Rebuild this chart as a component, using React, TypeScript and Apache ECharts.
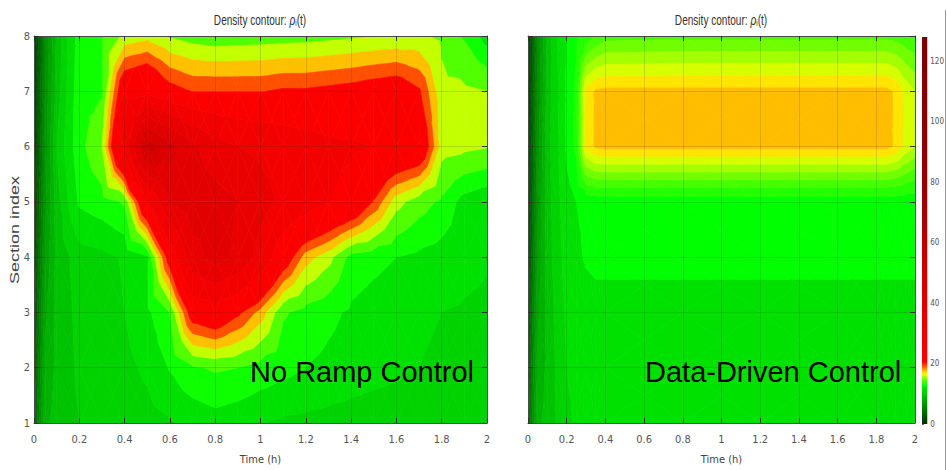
import React, { useEffect, useRef } from "react";
import * as echarts from "echarts";

// ---------- data ----------
const SECTIONS = [1, 2, 3, 4, 5, 6, 7, 8];
const TIME_TICKS = [0, 0.2, 0.4, 0.6, 0.8, 1, 1.2, 1.4, 1.6, 1.8, 2];
const SECTION_TICKS = [1, 2, 3, 4, 5, 6, 7, 8];
const COLORBAR_TICKS = [0, 20, 40, 60, 80, 100, 120];
const COLORBAR_MAX = 128;

// No ramp control: density at sections 1..8 over time (h)
const NO_RAMP_TIMES = [0, 0.05, 0.1, 0.2, 0.3, 0.4, 0.5, 0.6, 0.7, 0.8, 0.9, 1.0, 1.1, 1.2, 1.3, 1.4, 1.5, 1.6, 1.7, 1.8, 1.9, 2.0];
const NO_RAMP_S1 = [3.5, 8.8, 9.3, 10.0, 10.2, 10.4, 10.6, 10.9, 11.2, 11.6, 11.3, 11.0, 10.8, 10.7, 10.6, 10.5, 10.4, 10.4, 10.3, 10.3, 10.3, 10.3];
const NO_RAMP_S2 = [3.0, 8.3, 9.2, 10.2, 10.4, 10.7, 11.2, 12.3, 13.4, 13.8, 13.6, 13.0, 12.6, 12.2, 11.9, 11.6, 11.4, 11.2, 11.0, 10.9, 10.8, 10.7];
const NO_RAMP_S3 = [2.5, 7.8, 9.3, 10.3, 10.6, 11.0, 11.9, 13.6, 21.5, 22.7, 20.5, 17.7, 13.8, 13.0, 12.5, 12.0, 11.6, 11.3, 11.1, 11.0, 10.9, 10.8];
const NO_RAMP_S4 = [2.0, 7.2, 9.3, 10.5, 10.7, 11.1, 12.0, 21.5, 33.0, 37.0, 34.0, 28.0, 22.0, 17.5, 15.75, 13.0, 12.6, 12.2, 11.9, 11.6, 11.3, 11.1];
const NO_RAMP_S5 = [1.5, 6.8, 9.5, 12.4, 12.9, 13.8, 24.1, 35.0, 38.0, 37.0, 35.0, 32.0, 29.0, 27.0, 25.0, 23.5, 19.8, 15.8, 14.3, 13.3, 11.6, 11.0];
const NO_RAMP_S6 = [1.0, 6.5, 10.0, 13.0, 15.2, 27.0, 48.0, 42.0, 36.0, 32.0, 30.0, 29.0, 28.0, 27.0, 26.0, 25.5, 25.0, 24.0, 23.0, 15.9, 15.6, 15.3];
const NO_RAMP_S7 = [0.8, 6.2, 9.4, 13.0, 13.4, 22.6, 23.8, 20.9, 19.9, 19.9, 19.9, 19.9, 20.3, 20.3, 20.6, 20.9, 21.4, 21.8, 20.3, 15.6, 15.5, 15.2];
const NO_RAMP_S8 = [0.8, 6.0, 9.2, 12.8, 13.4, 15.6, 16.2, 15.0, 14.4, 14.1, 14.2, 14.3, 14.4, 14.5, 14.7, 14.9, 15.1, 15.3, 15.4, 14.9, 13.4, 11.5];
const NO_RAMP_LEVELS = [0, 1, 2, 3, 4, 5, 6, 7, 8, 9, 10, 11, 12.2, 13.6, 15.2, 16.8, 18.4, 20, 25, 30, 35, 40, 45, 50];

// Data-driven control
const DATA_DRIVEN_TIMES = [0, 0.05, 0.1, 0.15, 0.2, 0.25, 0.3, 0.35, 0.4, 0.8, 1.2, 1.6, 1.8, 1.85, 1.9, 1.95, 2.0];
const DATA_DRIVEN_S1 = [3.5, 8.8, 9.3, 10.1, 10.8, 11.1, 11.2, 11.3, 11.3, 11.3, 11.3, 11.3, 11.3, 11.3, 11.3, 11.3, 11.3];
const DATA_DRIVEN_S2 = [3.0, 8.3, 9.2, 10.2, 11.0, 11.3, 11.4, 11.5, 11.5, 11.5, 11.5, 11.5, 11.5, 11.5, 11.5, 11.5, 11.5];
const DATA_DRIVEN_S3 = [2.5, 7.8, 9.3, 10.3, 11.2, 11.6, 11.8, 11.9, 11.9, 11.9, 11.9, 11.9, 11.9, 11.9, 11.9, 11.9, 11.9];
const DATA_DRIVEN_S4 = [2.0, 7.2, 9.5, 10.5, 11.5, 12.0, 12.3, 12.4, 12.4, 12.4, 12.4, 12.4, 12.4, 12.4, 12.4, 12.4, 12.4];
const DATA_DRIVEN_S5 = [1.5, 6.8, 9.6, 10.6, 11.8, 12.2, 12.4, 12.5, 12.5, 12.5, 12.5, 12.5, 12.5, 12.5, 12.5, 12.5, 12.4];
const DATA_DRIVEN_S6 = [1.0, 6.5, 9.6, 10.8, 12.4, 13.2, 16.8, 17.4, 17.5, 17.5, 17.5, 17.5, 17.5, 17.5, 17.2, 16.4, 15.9];
const DATA_DRIVEN_S7 = [0.8, 6.2, 9.5, 10.8, 12.4, 13.2, 16.8, 17.4, 17.5, 17.5, 17.5, 17.5, 17.5, 17.5, 17.2, 16.4, 15.9];
const DATA_DRIVEN_S8 = [0.8, 6.0, 9.3, 11.0, 12.2, 12.8, 13.3, 13.8, 14.2, 14.3, 14.3, 14.3, 14.3, 14.3, 14.2, 14.0, 13.8];
const DATA_DRIVEN_LEVELS = [0, 1, 2, 3, 4, 5, 6, 7, 8, 9, 10, 11, 12.2, 13.0, 13.8, 14.5, 15.2, 15.9, 16.6, 17.3];

// colormap (value -> rgb)
const CMAP_VALUES = [0, 3, 6, 9, 10, 11, 12.2, 12.6, 14.4, 15.6, 16.4, 16.9, 17.6, 19.2, 20.5, 40, 60, 80, 128];
const CMAP_COLORS = [
  [0, 48, 0], [0, 90, 0], [0, 140, 0], [0, 185, 0], [0, 205, 0], [0, 216, 0], [0, 234, 0], [0, 255, 0],
  [80, 255, 0], [168, 255, 0], [224, 255, 0], [255, 232, 0], [255, 192, 0], [255, 80, 0], [255, 0, 0],
  [222, 0, 0], [182, 0, 0], [150, 0, 0], [122, 0, 0],
];

function rgb(c: number[]) {
  return `rgb(${Math.round(c[0])},${Math.round(c[1])},${Math.round(c[2])})`;
}
function cm(v: number): string {
  const n = CMAP_VALUES.length;
  if (v <= CMAP_VALUES[0]) return rgb(CMAP_COLORS[0]);
  if (v >= CMAP_VALUES[n - 1]) return rgb(CMAP_COLORS[n - 1]);
  for (let k = 0; k < n - 1; k++) {
    const a = CMAP_VALUES[k], b = CMAP_VALUES[k + 1];
    if (v >= a && v <= b) {
      const f = (v - a) / (b - a);
      const c0 = CMAP_COLORS[k], c1 = CMAP_COLORS[k + 1];
      return rgb([0, 1, 2].map((q) => c0[q] + f * (c1[q] - c0[q])));
    }
  }
  return rgb(CMAP_COLORS[n - 1]);
}

type P = [number, number, number];
function clipPoly(pts: P[], level: number, keepAbove: boolean): P[] {
  const out: P[] = [];
  for (let n = 0; n < pts.length; n++) {
    const a = pts[n], b = pts[(n + 1) % pts.length];
    const ina = keepAbove ? a[2] >= level : a[2] <= level;
    const inb = keepAbove ? b[2] >= level : b[2] <= level;
    if (ina) out.push(a);
    if (ina !== inb) {
      const f = (level - a[2]) / (b[2] - a[2]);
      out.push([a[0] + f * (b[0] - a[0]), a[1] + f * (b[1] - a[1]), level]);
    }
  }
  return out;
}

function contourSeries(axisIndex: number, times: number[], sections: number[], z: number[][], levels: number[]) {
  const cells: any[] = [];
  for (let j = 0; j < sections.length - 1; j++)
    for (let i = 0; i < times.length - 1; i++) cells.push({ value: [i, j] });
  const colors = levels.map((lo, k) => {
    const hi = k < levels.length - 1 ? levels[k + 1] : lo + (lo - levels[k - 1]);
    return cm((lo + hi) / 2);
  });
  return {
    type: "custom",
    xAxisIndex: axisIndex,
    yAxisIndex: axisIndex,
    data: cells,
    silent: true,
    clip: true,
    z: 1,
    renderItem: (params: any, api: any) => {
      const i = api.value(0), j = api.value(1);
      const t0 = times[i], t1 = times[i + 1], s0 = sections[j], s1 = sections[j + 1];
      const pA = api.coord([t0, s0]), pB = api.coord([t1, s0]), pC = api.coord([t1, s1]), pD = api.coord([t0, s1]);
      const A: P = [pA[0], pA[1], z[j][i]];
      const B: P = [pB[0], pB[1], z[j][i + 1]];
      const C: P = [pC[0], pC[1], z[j + 1][i + 1]];
      const D: P = [pD[0], pD[1], z[j + 1][i]];
      const M: P = [(A[0] + C[0]) / 2, (A[1] + C[1]) / 2, (A[2] + B[2] + C[2] + D[2]) / 4];
      const tris: P[][] = [[A, B, M], [B, C, M], [C, D, M], [D, A, M]];
      const children: any[] = [];
      for (const tri of tris) {
        const vmin = Math.min(tri[0][2], tri[1][2], tri[2][2]);
        const vmax = Math.max(tri[0][2], tri[1][2], tri[2][2]);
        for (let k = 0; k < levels.length; k++) {
          const lo = k === 0 ? -Infinity : levels[k];
          const hi = k < levels.length - 1 ? levels[k + 1] : Infinity;
          if (hi < vmin || lo > vmax) continue;
          let poly = tri;
          if (lo > vmin) poly = clipPoly(poly, lo, true);
          if (poly.length < 3) continue;
          if (hi < vmax) poly = clipPoly(poly, hi, false);
          if (poly.length < 3) continue;
          children.push({
            type: "polygon",
            shape: { points: poly.map((p) => [p[0], p[1]]) },
            style: { fill: colors[k], stroke: colors[k], lineWidth: 0.7, lineJoin: "round" },
          });
        }
      }
      return { type: "group", children };
    },
  };
}

const NARROW = '"Liberation Sans Narrow", "DejaVu Sans Condensed", "Roboto Condensed", Roboto, sans-serif';
const SANS = '"Liberation Sans", Arial, sans-serif';
const AXIS_COLOR = "#4a4a4a";
const LABEL_COLOR = "#555";

function xAxes(gridIndex: number) {
  const base = {
    gridIndex,
    type: "value",
    min: TIME_TICKS[0],
    max: TIME_TICKS[TIME_TICKS.length - 1],
    interval: TIME_TICKS[1] - TIME_TICKS[0],
    z: 10,
    axisLine: { show: true, onZero: false, lineStyle: { color: AXIS_COLOR, width: 1 } },
    axisTick: { show: true, inside: true, length: 5, lineStyle: { color: "#333" } },
  };
  return [
    {
      ...base,
      position: "bottom",
      axisLabel: { show: true, margin: 11, color: LABEL_COLOR, fontSize: 11, fontFamily: NARROW },
      splitLine: { show: true, lineStyle: { color: "rgba(0,0,0,0.13)", width: 1 } },
      name: "Time (h)",
      nameLocation: "middle",
      nameGap: 31,
      nameTextStyle: { color: "#444", fontSize: 11, fontFamily: NARROW },
    },
    { ...base, position: "top", axisLabel: { show: false }, splitLine: { show: false } },
  ];
}

function yAxes(gridIndex: number, withLabels: boolean) {
  const base = {
    gridIndex,
    type: "value",
    min: SECTION_TICKS[0],
    max: SECTION_TICKS[SECTION_TICKS.length - 1],
    interval: SECTION_TICKS[1] - SECTION_TICKS[0],
    z: 10,
    axisLine: { show: true, onZero: false, lineStyle: { color: AXIS_COLOR, width: 1 } },
    axisTick: { show: true, inside: true, length: 5, lineStyle: { color: "#333" } },
  };
  const left: any = {
    ...base,
    position: "left",
    axisLabel: { show: withLabels, margin: 4, color: LABEL_COLOR, fontSize: 11, fontFamily: NARROW },
    splitLine: { show: true, lineStyle: { color: "rgba(0,0,0,0.13)", width: 1 } },
  };
  return [left, { ...base, position: "right", axisLabel: { show: false }, splitLine: { show: false } }];
}

function titleText(x: number) {
  return {
    type: "text",
    x,
    y: 20,
    z: 20,
    scaleX: 0.72,
    style: {
      text: "{a|Density contour: }{b|ρ}{c|i}{a|(t)}",
      align: "center",
      verticalAlign: "middle",
      rich: {
        a: { fontSize: 14, fontFamily: SANS, fill: "#333" },
        b: { fontSize: 14, fontFamily: SANS, fill: "#333", fontStyle: "italic" },
        c: { fontSize: 9, fontFamily: SANS, fill: "#333", padding: [7, 0, 0, 0] },
      },
    },
  };
}

export default function App() {
  const ref = useRef<HTMLDivElement>(null);
  useEffect(() => {
    if (!ref.current) return;
    const chart = echarts.init(ref.current, undefined, { renderer: "svg" });
    const noRamp = [NO_RAMP_S1, NO_RAMP_S2, NO_RAMP_S3, NO_RAMP_S4, NO_RAMP_S5, NO_RAMP_S6, NO_RAMP_S7, NO_RAMP_S8];
    const dataDriven = [DATA_DRIVEN_S1, DATA_DRIVEN_S2, DATA_DRIVEN_S3, DATA_DRIVEN_S4, DATA_DRIVEN_S5, DATA_DRIVEN_S6, DATA_DRIVEN_S7, DATA_DRIVEN_S8];
    const stops = CMAP_VALUES.map((v, k) => ({ offset: Math.min(1, v / COLORBAR_MAX), color: rgb(CMAP_COLORS[k]) }));

    const option: any = {
      animation: false,
      backgroundColor: "#fff",
      grid: [
        { left: 34, top: 36, width: 453, height: 388 },
        { left: 528, top: 36, width: 387, height: 388 },
        { left: 922, top: 37, width: 10, height: 387 },
      ],
      xAxis: [
        ...xAxes(0),
        ...xAxes(1),
        { gridIndex: 2, type: "value", min: 0, max: 1, show: false },
      ],
      yAxis: [
        ...yAxes(0, true),
        ...yAxes(1, false),
        {
          gridIndex: 2,
          type: "value",
          position: "right",
          min: COLORBAR_TICKS[0],
          max: COLORBAR_MAX,
          interval: COLORBAR_TICKS[1] - COLORBAR_TICKS[0],
          axisLine: { show: false },
          axisTick: { show: true, length: 2, lineStyle: { color: "#666" } },
          splitLine: { show: false },
          axisLabel: { margin: 3, fontSize: 8, color: LABEL_COLOR, fontFamily: NARROW, showMaxLabel: false },
        },
      ],
      series: [
        contourSeries(0, NO_RAMP_TIMES, SECTIONS, noRamp, NO_RAMP_LEVELS),
        contourSeries(2, DATA_DRIVEN_TIMES, SECTIONS, dataDriven, DATA_DRIVEN_LEVELS),
        {
          type: "custom",
          xAxisIndex: 4,
          yAxisIndex: 4,
          silent: true,
          data: [{ value: [0, 0] }],
          renderItem: (params: any, api: any) => {
            const a = api.coord([0, 0]);
            const b = api.coord([1, COLORBAR_MAX]);
            return {
              type: "rect",
              shape: { x: a[0], y: b[1], width: b[0] - a[0], height: a[1] - b[1] },
              style: { fill: new echarts.graphic.LinearGradient(0, 1, 0, 0, stops) },
            };
          },
        },
      ],
      graphic: [
        titleText(260),
        titleText(721),
        {
          type: "text",
          x: 15,
          y: 230,
          z: 20,
          rotation: Math.PI / 2,
          scaleY: 0.68,
          style: { text: "Section index", fontSize: 18, fontFamily: SANS, fill: "#444", align: "center", verticalAlign: "middle" },
        },
        {
          type: "text",
          x: 250,
          y: 372,
          z: 30,
          style: { text: "No Ramp Control", fontSize: 29, fontFamily: SANS, fill: "#000", verticalAlign: "middle" },
        },
        {
          type: "text",
          x: 645,
          y: 372,
          z: 30,
          style: { text: "Data-Driven Control", fontSize: 29, fontFamily: SANS, fill: "#000", verticalAlign: "middle" },
        },
        {
          type: "line",
          z: 30,
          shape: { x1: 945.5, y1: 10, x2: 945.5, y2: 470 },
          style: { stroke: "#999", lineWidth: 1 },
        },
      ],
    };
    chart.setOption(option);
    return () => chart.dispose();
  }, []);
  return <div ref={ref} style={{ position: "absolute", left: 0, top: 0, width: 947, height: 470 }} />;
}
